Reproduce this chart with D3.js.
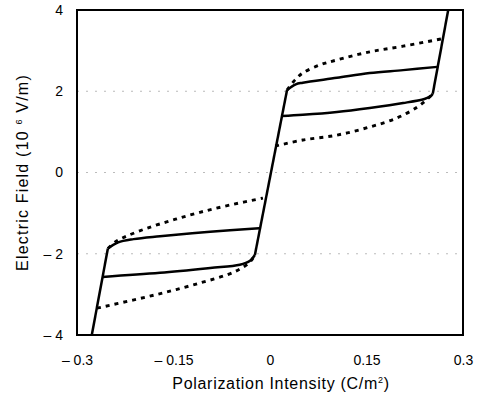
<!DOCTYPE html>
<meta charset="UTF-8">
<style>
  body { margin: 0; background: #fff; }
  .tick text { font: 14px "Liberation Sans", Arial, sans-serif; fill: #000; }
  .title { font: 16px "Liberation Sans", Arial, sans-serif; fill: #000; }
  .grid { stroke: #aaa; stroke-width: 0.8px; stroke-dasharray: 2,7; }
  .curve { fill: none; stroke: #000; stroke-width: 2.5px; stroke-linejoin: round; }
  .dotted { stroke-dasharray: 4,5; stroke-width: 2.9px; }
</style>
<body>
<script src="https://d3js.org/d3.v7.min.js"></script>
<script>

// tick values and labels
var xTicks = [-0.3, -0.15, 0, 0.15, 0.3];
var xTickLabels = ["\u2013 0.3", "\u2013 0.15", "0", "0.15", "0.3"];
var yTicks = [-4, -2, 0, 2, 4];
var yTickLabels = ["\u2013 4", "\u2013 2", "0", "2", "4"];
var gridLevels = [-2, 0, 2];

// steep (saturation) segments: [P, E]
var leftSteep   = [[-0.277, -4.0], [-0.252, -1.87]];
var centerSteep = [[-0.0235, -2.03], [0.0265, 2.03]];
var rightSteep  = [[0.253, 1.94], [0.277, 4.0]];

// inner solid loop branches
var llUpperSolid = [[-0.252, -1.87], [-0.236, -1.72], [-0.212, -1.64], [-0.171, -1.57],
                    [-0.093, -1.46], [-0.017, -1.37]];
var llLowerSolid = [[-0.260, -2.57], [-0.171, -2.47], [-0.093, -2.35], [-0.047, -2.27],
                    [-0.031, -2.17], [-0.0235, -2.03]];
var urUpperSolid = [[0.0265, 2.03], [0.040, 2.17], [0.051, 2.21], [0.104, 2.33],
                    [0.155, 2.45], [0.207, 2.52], [0.260, 2.60]];
var urLowerSolid = [[0.0185, 1.39], [0.051, 1.42], [0.104, 1.49], [0.155, 1.59],
                    [0.207, 1.71], [0.240, 1.81], [0.249, 1.87], [0.253, 1.94]];

// outer dotted loop branches
var llUpperDotted = [[-0.252, -1.87], [-0.239, -1.69], [-0.222, -1.56], [-0.191, -1.37],
                     [-0.151, -1.17], [-0.109, -0.98], [-0.062, -0.80], [-0.011, -0.63]];
var llLowerDotted = [[-0.269, -3.34], [-0.213, -3.14], [-0.160, -2.94], [-0.109, -2.72],
                     [-0.067, -2.52], [-0.047, -2.38], [-0.031, -2.20], [-0.0235, -2.03]];
var urUpperDotted = [[0.0265, 2.03], [0.039, 2.28], [0.051, 2.45], [0.078, 2.65],
                     [0.104, 2.77], [0.155, 2.97], [0.207, 3.11], [0.267, 3.29]];
var urLowerDotted = [[0.008, 0.65], [0.051, 0.80], [0.104, 0.92], [0.155, 1.12],
                     [0.197, 1.34], [0.229, 1.61], [0.246, 1.83], [0.253, 1.94]];

var margin = {top: 10, right: 19, bottom: 66, left: 77},
    width = 482 - margin.left - margin.right,
    height = 401 - margin.top - margin.bottom;

var svg = d3.select("body").append("svg")
    .attr("width", 482)
    .attr("height", 401)
  .append("g")
    .attr("transform", "translate(" + margin.left + "," + margin.top + ")");

var x = d3.scaleLinear().domain([-0.3, 0.3]).range([0, width]);
var y = d3.scaleLinear().domain([-4, 4]).range([height, 0]);

// faint dotted grid lines
svg.selectAll("line.grid")
    .data(gridLevels)
  .enter().append("line")
    .attr("class", "grid")
    .attr("x1", 0)
    .attr("x2", width)
    .attr("y1", function(d) { return y(d); })
    .attr("y2", function(d) { return y(d); });

// axes (labels only, frame drawn separately)
var xAxis = svg.append("g")
    .attr("transform", "translate(0," + height + ")")
    .call(d3.axisBottom(x).tickValues(xTicks).tickSize(0).tickPadding(20)
      .tickFormat(function(d, i) { return xTickLabels[i]; }));
xAxis.select(".domain").remove();

var yAxis = svg.append("g")
    .call(d3.axisLeft(y).tickValues(yTicks).tickSize(0).tickPadding(14)
      .tickFormat(function(d, i) { return yTickLabels[i]; }));
yAxis.select(".domain").remove();

// the loops
var straight = d3.line()
    .x(function(d) { return x(d[0]); })
    .y(function(d) { return y(d[1]); });

var smooth = d3.line()
    .x(function(d) { return x(d[0]); })
    .y(function(d) { return y(d[1]); })
    .curve(d3.curveCatmullRom.alpha(0.5));

[leftSteep, centerSteep, rightSteep].forEach(function(seg) {
  svg.append("path").attr("class", "curve").attr("d", straight(seg));
});

[llUpperSolid, llLowerSolid, urUpperSolid, urLowerSolid].forEach(function(seg) {
  svg.append("path").attr("class", "curve").attr("d", smooth(seg));
});

[llUpperDotted, llLowerDotted, urUpperDotted, urLowerDotted].forEach(function(seg) {
  svg.append("path").attr("class", "curve dotted").attr("d", smooth(seg));
});

// frame
svg.append("rect")
    .attr("width", width)
    .attr("height", height)
    .attr("fill", "none")
    .attr("stroke", "#000")
    .attr("stroke-width", 2);

// axis titles
svg.append("text")
    .attr("class", "title")
    .attr("x", width / 2 + 11)
    .attr("y", height + 54)
    .attr("text-anchor", "middle")
    .style("letter-spacing", "0.7px")
    .html("Polarization Intensity (C/m<tspan dy='-6' font-size='9'>2</tspan><tspan dy='6'>)</tspan>");

svg.append("text")
    .attr("class", "title")
    .attr("transform", "translate(-49," + (height / 2) + ") rotate(-90)")
    .attr("text-anchor", "middle")
    .style("letter-spacing", "1.2px")
    .html("Electric Field (10 <tspan dy='-6' font-size='9'>6</tspan><tspan dy='6'> V/m)</tspan>");

</script>
</body>
